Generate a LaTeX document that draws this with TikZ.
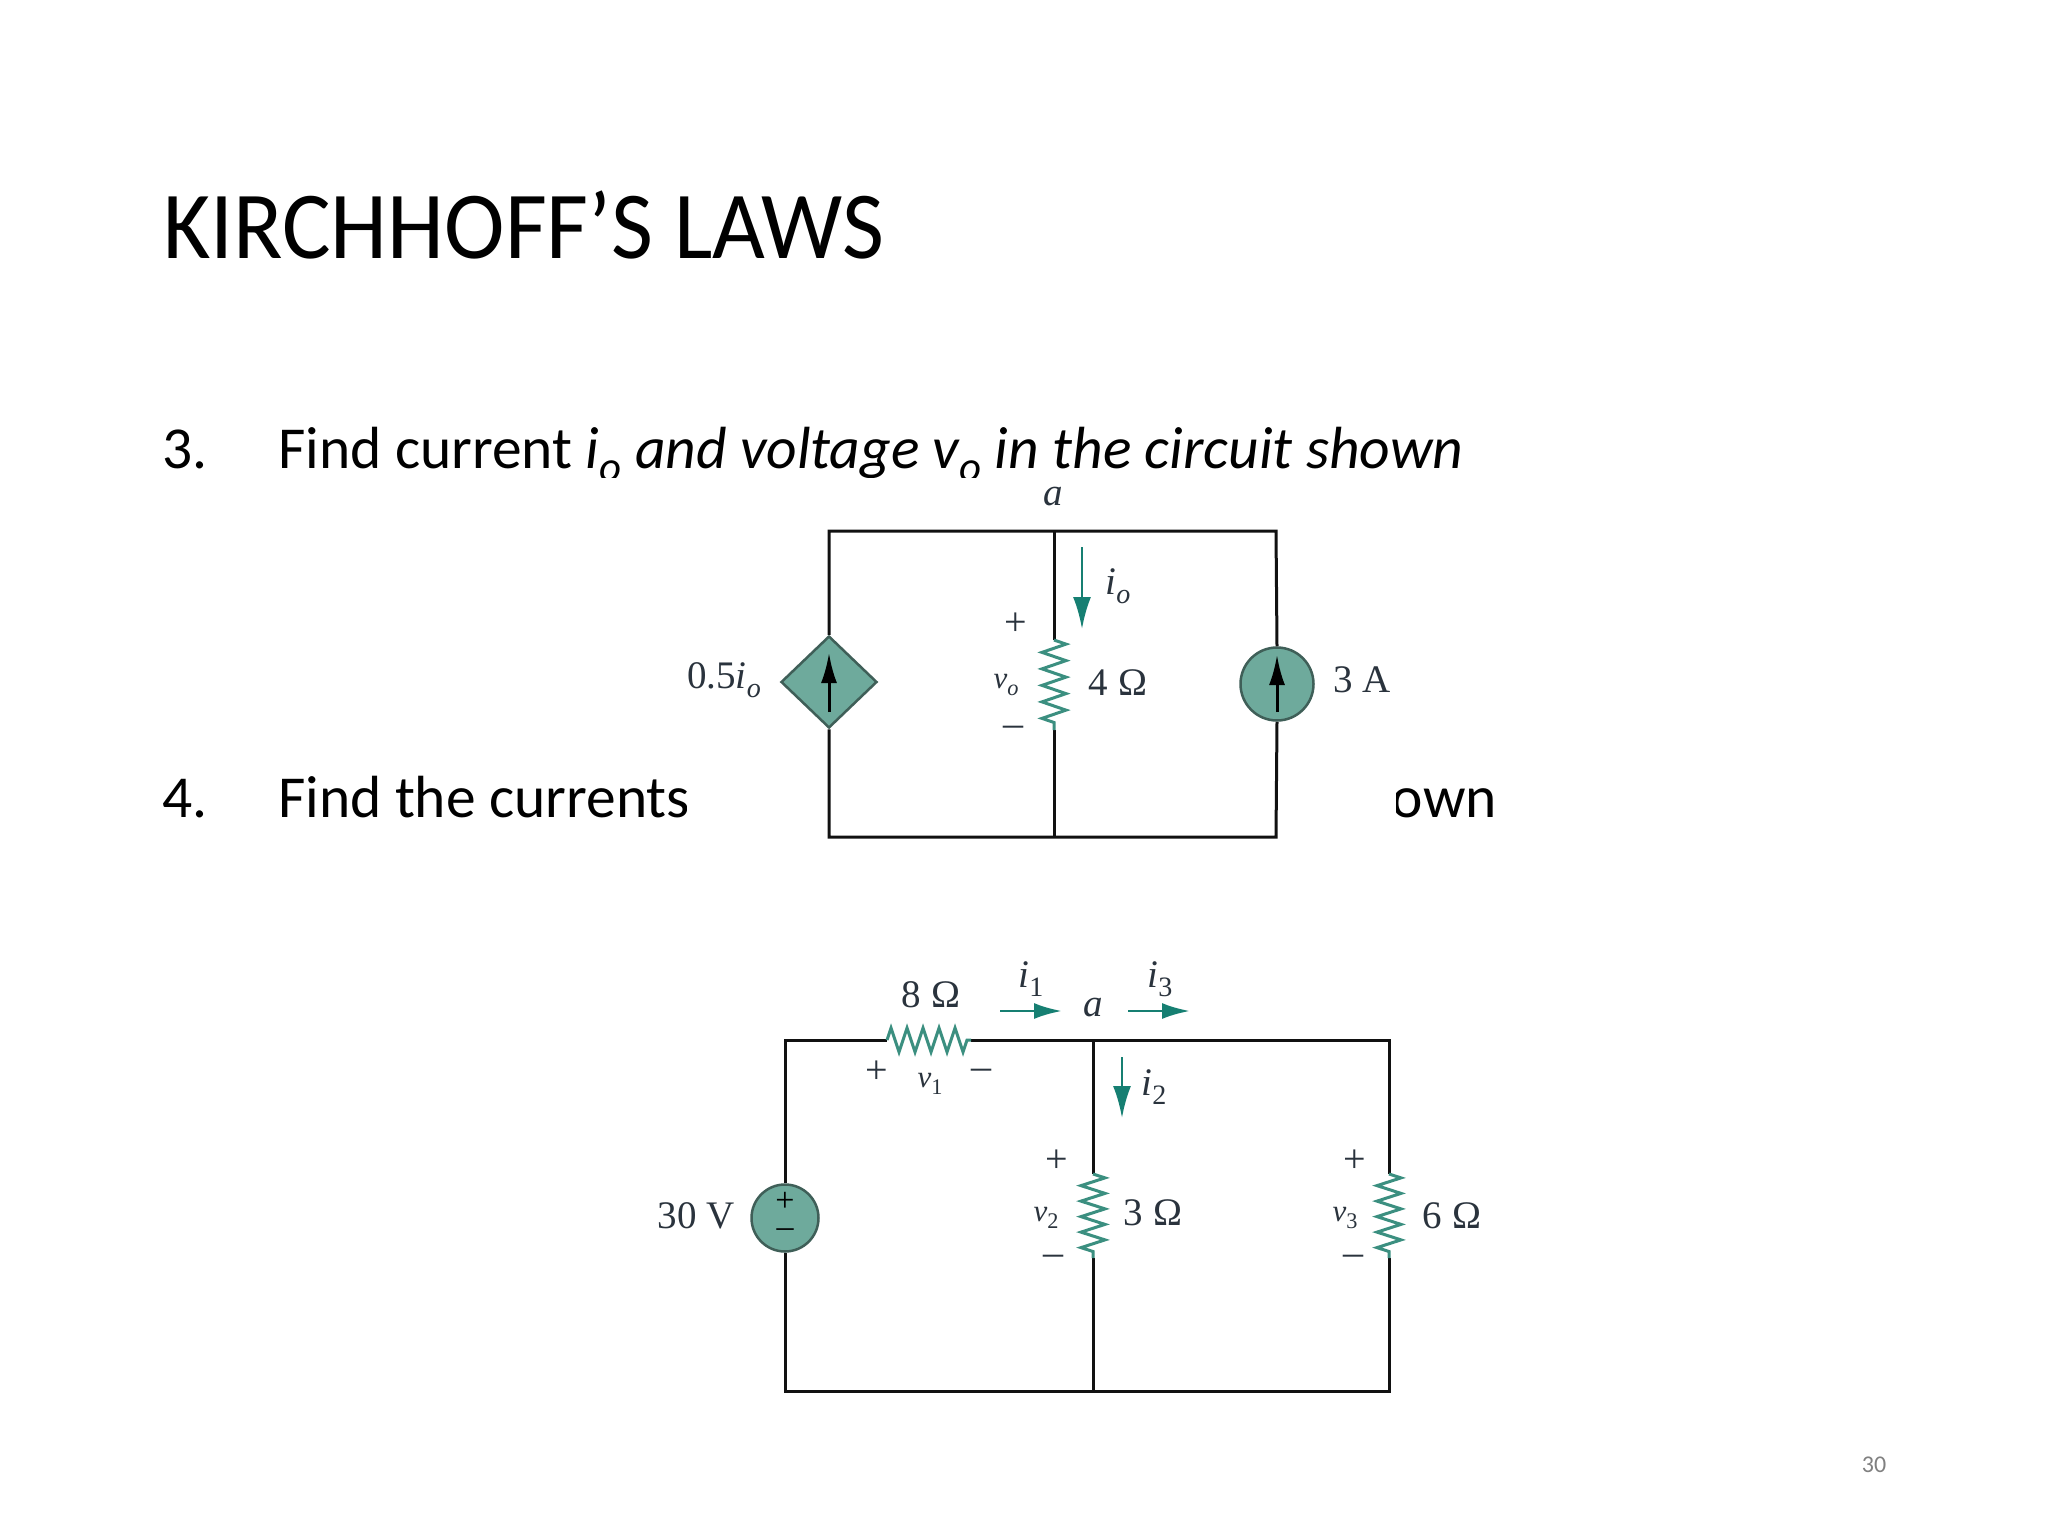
\documentclass[tikz,border=0pt]{standalone}
\usepackage{fontspec}
\setmainfont{Carlito}
\newfontfamily\lblfont{Liberation Serif}
\usetikzlibrary{arrows.meta,decorations.pathmorphing,shapes.geometric}
\definecolor{wirec}{HTML}{111111}
\definecolor{tealc}{HTML}{167F72}
\definecolor{resc}{HTML}{3B8F80}
\definecolor{srcfill}{HTML}{6EAA9C}
\definecolor{srcedge}{HTML}{3F5F58}
\definecolor{lblc}{HTML}{2A333D}
\newcommand{\slidefont}[1]{\fontsize{#1}{#1}\selectfont}
\newcommand{\subsc}[1]{\raisebox{-.22em}{\scalebox{.72}{#1}}}
\tikzset{
 wire/.style={draw=wirec,line width=3pt},
 ihead/.style={draw=tealc,line width=2.8pt,-{Latex[length=32pt,width=18pt]}},
 ihoriz/.style={draw=tealc,line width=2.8pt,-{Latex[length=28pt,width=16pt]}},
 srcarrow/.style={draw=black,line width=3pt,-{Latex[length=30pt,width=16pt]}},
 res/.style={draw=resc,line width=3pt,decorate,decoration={zigzag,segment length=16.5pt,amplitude=12pt}},
 srcshape/.style={fill=srcfill,draw=srcedge,line width=2.5pt,inner sep=0pt},
 lbl/.style={inner sep=0pt,text=lblc,font=\lblfont\slidefont{39}},
 lblv/.style={inner sep=0pt,text=lblc,font=\lblfont\slidefont{31}},
 pm/.style={inner sep=0pt,text=lblc,font=\lblfont\slidefont{40}},
 slide/.style={inner sep=0pt,anchor=base west,text=black,font=\slidefont{59.5}}
}
\begin{document}
\begin{tikzpicture}[x=1pt,y=-1pt]
\useasboundingbox (0,0) rectangle (2048,1536);
\fill[white] (0,0) rectangle (2048,1536);
% slide text
\node[slide,font=\slidefont{96},xscale=.95] (title) at (163,258) {KIRCHHOFF’S LAWS};
\node[slide] (n3) at (162,468) {3.};
\begin{scope}
\clip (270,400) rectangle (1480,477);
\node[slide] (q3) at (278,468) {Find current \textit{i\subsc{o} and voltage v\subsc{o} in the circuit shown}};
\end{scope}
\node[slide] (n4) at (162,817) {4.};
\begin{scope}
\clip (270,760) rectangle (686,840);
\node[slide] (q4a) at (278,817) {Find the currents};
\end{scope}
\begin{scope}
\clip (1396,760) rectangle (1520,840);
\node[slide,anchor=base east] (q4b) at (1497,817) {own};
\end{scope}
\node[inner sep=0pt,text=gray,font=\slidefont{24}] (pg) at (1874,1465) {30};
% circuit 1
\coordinate (tl1) at (829,531);
\coordinate (tm1) at (1054,531);
\coordinate (tr1) at (1276,531);
\coordinate (bl1) at (829,837);
\coordinate (bm1) at (1054,837);
\coordinate (br1) at (1276,837);
\coordinate (r1a) at (1054,640);
\coordinate (r1b) at (1054,730);
\node[diamond,srcshape,minimum width=96pt,minimum height=92pt] (dep) at (829,682) {};
\node[ellipse,srcshape,minimum width=73pt,minimum height=73pt] (cs) at (1277,684) {};
\draw[wire,line join=miter] (dep.north) -- (tl1) -- (tm1) -- (tr1) -- (cs.north);
\draw[wire,line join=miter] (dep.south) -- (bl1) -- (bm1) -- (br1) -- (cs.south);
\draw[wire] (tm1) -- (r1a);
\draw[wire] (r1b) -- (bm1);
\draw[res] (r1a) -- (r1b);
\coordinate (a1) at (829,712); \coordinate (a2) at (829,653);
\coordinate (a3) at (1277,712); \coordinate (a4) at (1277,655);
\draw[srcarrow] (a1) -- (a2);
\draw[srcarrow] (a3) -- (a4);
\coordinate (io1) at (1082,547); \coordinate (io2) at (1082,629);
\draw[ihead] (io1) -- (io2);
\node[lbl] (la1) at (1053,497) {\textit{a}};
\node[lbl] (lio) at (1118,586) {\textit{i\subsc{o}}};
\node[pm] (p1) at (1016,624) {+};
\node[pm] (m1) at (1013,731) {–};
\node[lblv] (lvo) at (1006,685) {\textit{v\subsc{o}}};
\node[lbl] (l4) at (1118,683) {4 Ω};
\node[lbl] (ldep) at (724,680) {0.5\textit{i\subsc{o}}};
\node[lbl] (l3a) at (1362,680) {3 A};
% circuit 2
\coordinate (tl2) at (785,1040);
\coordinate (r0a) at (887,1040);
\coordinate (r0b) at (971,1040);
\coordinate (tm2) at (1093,1040);
\coordinate (tr2) at (1389,1040);
\coordinate (bl2) at (785,1391);
\coordinate (bm2) at (1093,1391);
\coordinate (br2) at (1389,1391);
\coordinate (r2a) at (1093,1174);
\coordinate (r2b) at (1093,1258);
\coordinate (r3a) at (1389,1174);
\coordinate (r3b) at (1389,1258);
\node[ellipse,srcshape,minimum width=67pt,minimum height=67pt] (vs) at (785,1218) {};
\draw[wire,line join=miter] (vs.north) -- (tl2) -- (r0a);
\draw[wire,line join=miter] (r0b) -- (tm2) -- (tr2) -- (r3a);
\draw[wire,line join=miter] (vs.south) -- (bl2) -- (bm2) -- (br2) -- (r3b);
\draw[wire] (tm2) -- (r2a);
\draw[wire] (r2b) -- (bm2);
\draw[res,decoration={zigzag,segment length=16pt,amplitude=12pt}] (r0a) -- (r0b);
\draw[res,decoration={zigzag,segment length=15.5pt,amplitude=12pt}] (r2a) -- (r2b);
\draw[res,decoration={zigzag,segment length=15.5pt,amplitude=12pt}] (r3a) -- (r3b);
\coordinate (h1a) at (1000,1011); \coordinate (h1b) at (1062,1011);
\coordinate (h3a) at (1128,1011); \coordinate (h3b) at (1190,1011);
\coordinate (h2a) at (1122,1057); \coordinate (h2b) at (1122,1118);
\draw[ihoriz] (h1a) -- (h1b);
\draw[ihoriz] (h3a) -- (h3b);
\draw[ihead] (h2a) -- (h2b);
\node[lbl] (l8) at (931,995) {8 Ω};
\node[lbl] (li1) at (1031,979) {\textit{i}\subsc{1}};
\node[lbl] (la2) at (1093,1008) {\textit{a}};
\node[lbl] (li3) at (1160,979) {\textit{i}\subsc{3}};
\node[pm] (p2) at (877,1072) {+};
\node[lblv] (lv1) at (930,1084) {\textit{v}\subsc{1}};
\node[pm] (m2) at (981,1074) {–};
\node[lbl] (li2) at (1154,1087) {\textit{i}\subsc{2}};
\node[pm] (p3) at (1057,1161) {+};
\node[pm] (m3) at (1053,1260) {–};
\node[lblv] (lv2) at (1046,1218) {\textit{v}\subsc{2}};
\node[lbl] (l3) at (1153,1213) {3 Ω};
\node[pm] (p4) at (1355,1161) {+};
\node[pm] (m4) at (1353,1260) {–};
\node[lblv] (lv3) at (1345,1218) {\textit{v}\subsc{3}};
\node[lbl] (l6) at (1452,1216) {6 Ω};
\node[lbl] (l30) at (696,1216) {30 V};
\node[pm,text=black,font=\lblfont\slidefont{34}] (vp) at (785,1202) {+};
\node[pm,text=black,font=\lblfont\slidefont{34}] (vm) at (785,1233) {–};
\end{tikzpicture}
\end{document}
